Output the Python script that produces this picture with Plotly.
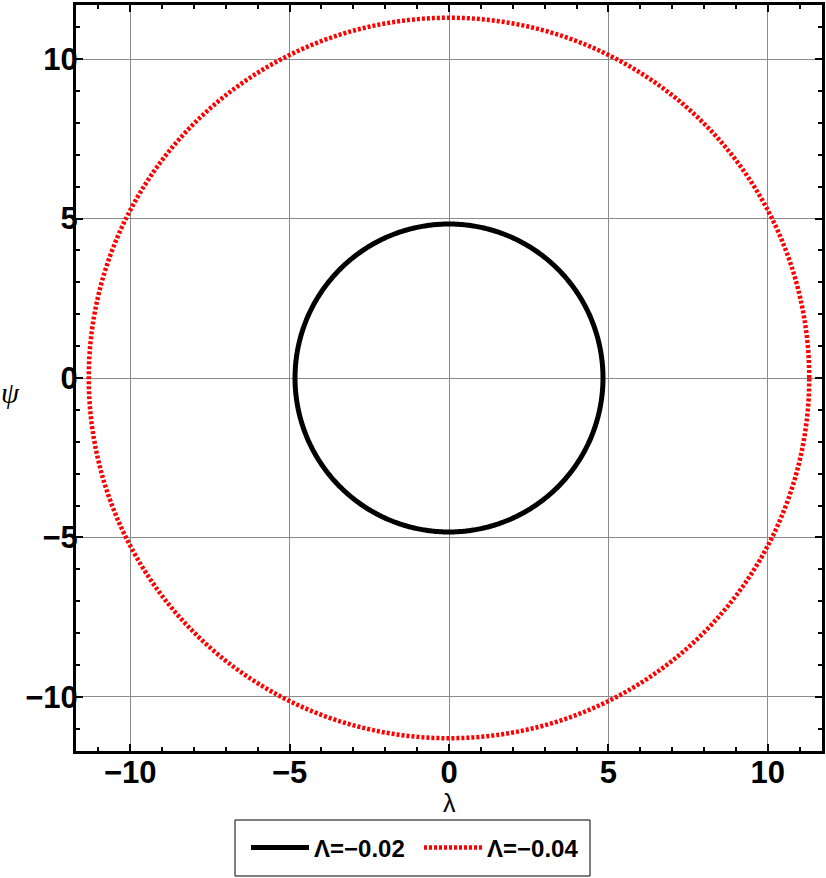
import numpy as np
import plotly.graph_objects as go

# circle radii
labels = ["Λ=−0.02", "Λ=−0.04"]
radii = [4.83, 11.3]
colors = ["black", "red"]
dashes = ["solid", "3px,2px"]
widths = [5, 4.5]

tick_vals = [-10, -5, 0, 5, 10]
tick_text = ["−10", "−5", "0", "5", "10"]

theta = np.linspace(0, 2 * np.pi, 721)

fig = go.Figure()
for lab, r, c, d, w in zip(labels, radii, colors, dashes, widths):
    fig.add_trace(go.Scatter(
        x=r * np.cos(theta), y=r * np.sin(theta), mode="lines", name=lab,
        line=dict(color=c, width=w, dash=d, simplify=False),
    ))

axis_style = dict(
    range=[-11.7, 11.7], automargin=False,
    tickvals=tick_vals, ticktext=tick_text,
    ticks="inside", ticklen=7, tickwidth=2, tickcolor="black",
    showgrid=True, gridcolor="#8c8c8c", gridwidth=1,
    zeroline=False,
    showline=True, linecolor="black", linewidth=3, mirror="allticks",
    tickfont=dict(family="Liberation Sans", size=31, color="black", weight="bold"),
    minor=dict(dtick=1, ticks="inside", ticklen=4, tickwidth=2, tickcolor="black", showgrid=False),
    title=None,
)

fig.update_xaxes(**axis_style, ticklabelstandoff=-8)
fig.update_yaxes(**axis_style, ticklabelstandoff=-11)

fig.add_annotation(
    text="λ", xref="paper", yref="paper", x=0.5, y=-0.07,
    xanchor="center", yanchor="middle", showarrow=False,
    font=dict(family="Liberation Sans", size=25, color="black"),
)
fig.add_annotation(
    text="<i>ψ</i>", xref="paper", yref="paper", x=-0.088, y=0.48,
    xanchor="center", yanchor="middle", showarrow=False,
    font=dict(family="Liberation Serif", size=29, color="black"),
)

# legend frame
fig.add_shape(type="rect", xref="paper", yref="paper",
              x0=(235 - 76) / 746, x1=(590 - 76) / 746,
              y0=(751 - 876) / 746, y1=(751 - 820) / 746,
              line=dict(color="black", width=1), fillcolor="white", layer="below")

fig.update_layout(
    width=826, height=878,
    margin=dict(l=76, r=4, t=5, b=127),
    plot_bgcolor="white", paper_bgcolor="white",
    legend=dict(
        orientation="h", x=(246 - 76) / 746, xanchor="left",
        y=(751 - 848) / 746, yanchor="middle",
        borderwidth=0, bgcolor="rgba(0,0,0,0)",
        font=dict(family="Liberation Sans", size=24, color="black", weight="bold"),
        itemwidth=58, entrywidth=100, entrywidthmode="pixels",
    ),
)

fig.write_html("out.html", config={"displayModeBar": False},
               post_script="document.body.style.margin='0';")
